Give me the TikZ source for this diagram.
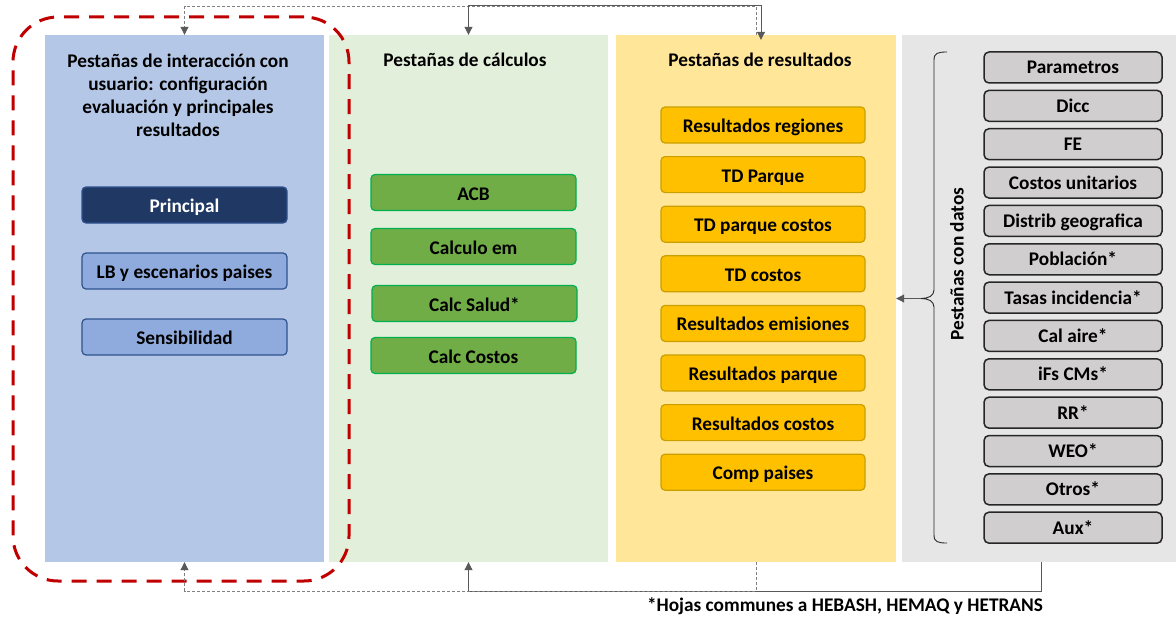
\documentclass[tikz,border=0pt]{standalone}
\usepackage{fontspec}
\setmainfont{Carlito}
\usetikzlibrary{arrows.meta}
\definecolor{pblue}{HTML}{B4C7E7}
\definecolor{pgreen}{HTML}{E2EFDA}
\definecolor{pyellow}{HTML}{FFE699}
\definecolor{pgrey}{HTML}{E7E6E6}
\definecolor{navy}{HTML}{203864}
\definecolor{bborder}{HTML}{2F528F}
\definecolor{lblue}{HTML}{8FAADC}
\definecolor{gfill}{HTML}{70AD47}
\definecolor{gborder}{HTML}{00B050}
\definecolor{yfill}{HTML}{FFC000}
\definecolor{yborder}{HTML}{C9A000}
\definecolor{dfill}{HTML}{D0CECE}
\definecolor{dborder}{HTML}{262626}
\definecolor{hlred}{HTML}{C00000}
\definecolor{conngrey}{HTML}{595959}
\definecolor{dashgrey}{HTML}{808080}
\begin{document}
\begin{tikzpicture}[x=1pt,y=-1pt,
  txt/.style={font=\fontsize{19.3}{23}\selectfont\bfseries, text=black},
  panel/.style={draw=none, inner sep=0pt, minimum height=527pt},
  boxbase/.style={txt, rounded corners=4pt, line width=1.2pt, inner sep=0pt, minimum height=36pt, text height=15pt, text depth=0pt},
  bbox/.style={boxbase, draw=bborder, fill=lblue, minimum width=205pt},
  gbox/.style={boxbase, draw=gborder, fill=gfill, minimum width=205pt},
  ybox/.style={boxbase, draw=yborder, fill=yfill, minimum width=204pt},
  dbox/.style={boxbase, rounded corners=5pt, line width=1.5pt, draw=dborder, fill=dfill, minimum width=178pt, minimum height=31pt, text height=13pt},
  tip/.style={-{Triangle[length=8pt,width=8pt]}},
  conn/.style={draw=conngrey, line width=1pt, tip},
  dconn/.style={draw=dashgrey, line width=0.9pt, dash pattern=on 3pt off 2pt, -{Triangle[length=8pt,width=8pt,color=conngrey]}},
  hlbox/.style={draw=hlred, line width=3pt, dash pattern=on 15pt off 10pt, rounded corners=45pt, inner sep=0pt}
]
\useasboundingbox (0,0) rectangle (1176,618);

% panels
\node[panel, fill=pblue, minimum width=279pt] (p1) at (184.5,298.5) {};
\node[panel, fill=pgreen, minimum width=279pt] (p2) at (468.5,298.5) {};
\node[panel, fill=pyellow, minimum width=280pt] (p3) at (756,298.5) {};
\node[panel, fill=pgrey, minimum width=274pt] (p4) at (1039,298.5) {};

% titles
\node[txt, align=center] (t1) at (178,95) {Pestañas de interacción con\\usuario: configuración\\evaluación y principales\\resultados};
\node[txt] (t2) at (465,60) {Pestañas de cálculos};
\node[txt] (t3) at (760,60) {Pestañas de resultados};
\node[txt, rotate=90] (t4) at (957,264) {Pestañas con datos};

% blue boxes
\node[bbox, fill=navy, text=white] (b1) at (184.5,205) {Principal};
\node[bbox] (b2) at (184.5,271) {LB y escenarios paises};
\node[bbox] (b3) at (184.5,337) {Sensibilidad};

% green boxes
\node[gbox] (g1) at (473.5,192.5) {ACB};
\node[gbox] (g2) at (473.5,246.5) {Calculo em};
\node[gbox] (g3) at (474.5,303.5) {Calc Salud*};
\node[gbox] (g4) at (473.5,355.5) {Calc Costos};

% yellow boxes
\node[ybox] (y1) at (763,125) {Resultados regiones};
\node[ybox] (y2) at (763,174.6) {TD Parque};
\node[ybox] (y3) at (763,224.2) {TD parque costos};
\node[ybox] (y4) at (763,273.8) {TD costos};
\node[ybox] (y5) at (763,323.4) {Resultados emisiones};
\node[ybox] (y6) at (763,373) {Resultados parque};
\node[ybox] (y7) at (763,422.6) {Resultados costos};
\node[ybox] (y8) at (763,472.2) {Comp paises};

% data boxes
\foreach \t [count=\i from 0] in {Parametros,Dicc,FE,Costos unitarios,Distrib geografica,Población*,Tasas incidencia*,Cal aire*,iFs CMs*,RR*,WEO*,Otros*,Aux*}
  \node[dbox] (d\i) at (1073,67.5+38.35*\i) {\t};

% brace
\coordinate (bt) at (921,298.5);
\draw[dborder, line width=0.9pt] (947,52) .. controls (938,52) and (934,53) .. (934,60) -- (934,290)
  .. controls (934,296) and (928,298.5) .. (bt) .. controls (928,298.5) and (934,301) .. (934,307)
  -- (934,535) .. controls (934,542) and (938,543) .. (947,543);
\draw[conn] (bt) -- (p3.east);

% highlight
\node[hlbox, minimum width=336pt, minimum height=564pt] (hl) at (181,299) {};

% top connectors
\coordinate (topy) at (0,6);
\draw[dconn] (p3.north) -- (p3.north |- topy) -| (p1.north);
\draw[conn, {Triangle[length=8pt,width=8pt]}-{Triangle[length=8pt,width=8pt]}] ([xshift=5pt,yshift=-5pt]p3.north) -- ([xshift=5pt]p3.north |- topy) -| (p2.north);

% bottom connectors
\coordinate (boty) at (0,591);
\draw[conn] ([xshift=2pt]p4.south) -- ([xshift=2pt]p4.south |- boty) -| (p2.south);
\draw[dconn] (p3.south) -- (p3.south |- boty) -| (p1.south);

% footnote
\node[txt] (fn) at (845,606) {*Hojas communes a HEBASH, HEMAQ y HETRANS};
\end{tikzpicture}
\end{document}
